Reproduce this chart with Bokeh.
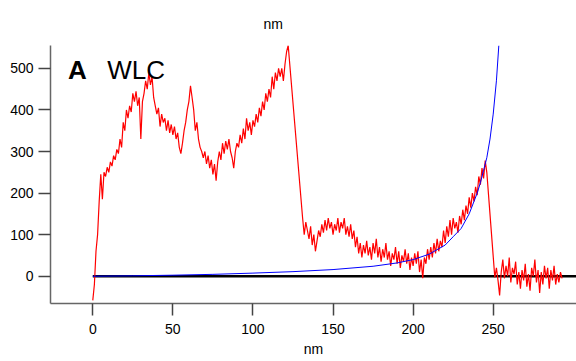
from bokeh.plotting import figure
from bokeh.models import Label, FixedTicker, Range1d
from bokeh.embed import file_html
from bokeh.resources import INLINE

# ---- data ----
seg1_x = list(range(0, 123))
seg1_y = [-58, -20, 60, 100, 180, 245, 185, 250, 240, 262,
          250, 275, 265, 290, 280, 305, 295, 330, 310, 370,
          350, 400, 380, 410, 395, 440, 420, 445, 410, 430,
          330, 420, 440, 470, 450, 490, 460, 480, 430, 410,
          390, 405, 360, 390, 370, 380, 350, 375, 345, 365,
          340, 360, 330, 345, 310, 295, 320, 350, 370, 400,
          420, 458, 430, 400, 350, 370, 330, 310, 300, 285,
          300, 270, 290, 260, 280, 245, 270, 230, 275, 300,
          280, 320, 295, 325, 305, 330, 300, 285, 260, 300,
          320, 310, 340, 320, 355, 330, 380, 350, 370, 340,
          375, 360, 390, 370, 405, 385, 420, 400, 440, 420,
          450, 430, 480, 450, 490, 470, 500, 480, 500, 470,
          510, 540, 555]
seg2_x = list(range(131, 247))
seg2_y = [140, 100, 130, 110, 90, 120, 75, 100, 60,
          85, 110, 95, 125, 105, 135, 110, 140, 115, 130,
          100, 125, 110, 140, 105, 130, 115, 140, 100, 120,
          95, 125, 90, 110, 70, 95, 55, 80, 45, 75,
          55, 85, 50, 70, 40, 80, 55, 90, 45, 70,
          35, 65, 45, 80, 40, 60, 25, 55, 40, 70,
          30, 60, 20, 50, 35, 65, 30, 55, 15, 45,
          25, 55, 30, 60, 10, 40, -5, 45, 30, 65,
          40, 70, 45, 80, 55, 90, 60, 85, 70, 110,
          80, 120, 95, 135, 100, 140, 115, 130, 105, 145,
          125, 160, 135, 170, 150, 190, 165, 200, 180, 215,
          195, 240, 220, 260, 235, 278, 250]
seg3_x = list(range(251, 294))
seg3_y = [-3, 20, -10, -46, 10, 40, -5, 25, 0,
          45, -15, 20, 5, 35, -20, 10, -30, 15, -10,
          30, -25, 5, -35, 20, 0, 40, -15, 15, -40,
          10, -20, 25, -5, 20, -30, 15, -10, 25, -20,
          5, -15, 10, -5]
trace_x = seg1_x + seg2_x + seg3_x
trace_y = seg1_y + seg2_y + seg3_y

wlc_x = [0, 25, 50, 75, 100, 125, 150, 175, 190, 200, 210, 220, 225,
         230, 235, 240, 242, 244, 246, 248, 250, 252, 253.5]
wlc_y = [0, 1, 2.5, 4.5, 7.5, 11, 16, 24, 32, 40, 53, 75, 95,
         115, 150, 200, 225, 255, 285, 330, 390, 470, 555]

base_x = [0, 302]
base_y = [0, 0]

x_ticks = [0, 50, 100, 150, 200, 250]
y_ticks = [0, 100, 200, 300, 400, 500]

FONT = "Liberation Sans"

p = figure(width=576, height=361, output_backend="svg", toolbar_location=None,
           x_range=Range1d(-26.4, 302), y_range=Range1d(-65.6, 555),
           min_border_left=50, min_border_right=0, min_border_top=45,
           min_border_bottom=58, title="nm")
p.outline_line_color = None
p.grid.visible = False
p.background_fill_color = "white"
p.border_fill_color = "white"

p.title.text_font = FONT
p.title.text_font_size = "14px"
p.title.text_font_style = "normal"
p.title.text_color = "black"
p.title.align = "left"
p.title.offset = 213
p.title.standoff = 27

for ax in (p.xaxis[0], p.yaxis[0]):
    ax.axis_line_color = "#666666"
    ax.axis_line_width = 1.5
    ax.major_tick_line_color = "#444444"
    ax.major_tick_line_width = 1.5
    ax.major_tick_out = 12
    ax.major_tick_in = 0
    ax.minor_tick_line_color = None
    ax.major_label_text_font = FONT
    ax.major_label_text_font_size = "14px"
    ax.major_label_text_color = "black"

p.xaxis.ticker = FixedTicker(ticks=x_ticks)
p.yaxis.ticker = FixedTicker(ticks=y_ticks)
p.xaxis.axis_label = "nm"
p.xaxis.axis_label_text_font = FONT
p.xaxis.axis_label_text_font_size = "14px"
p.xaxis.axis_label_text_font_style = "normal"
p.xaxis.axis_label_text_color = "black"
p.xaxis.axis_label_standoff = 4
p.xaxis.major_label_standoff = 8
p.yaxis.major_label_standoff = 5

p.line(base_x, base_y, line_color="black", line_width=2.5)
p.line(trace_x, trace_y, line_color="#ff0000", line_width=1.2)
p.line(wlc_x, wlc_y, line_color="#0000ff", line_width=1)

p.add_layout(Label(x=-15.4, y=495, text="A", text_font=FONT, text_font_size="26px",
                   text_font_style="bold", text_color="black", text_baseline="alphabetic"))
p.add_layout(Label(x=9.0, y=495, text="WLC", text_font=FONT, text_font_size="26px",
                   text_color="black", text_baseline="alphabetic"))

open("out.html", "w").write(file_html(p, INLINE))
